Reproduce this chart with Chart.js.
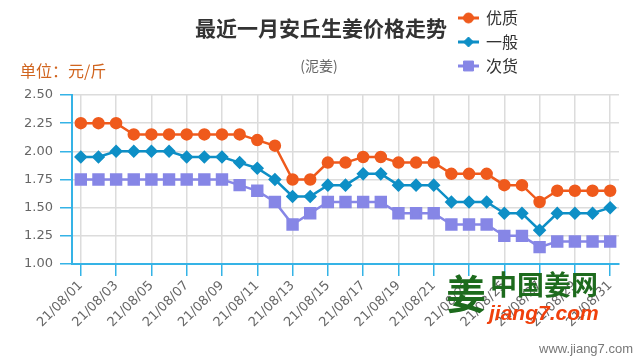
<!DOCTYPE html>
<html>
<head>
<meta charset="utf-8">
<script src="https://cdn.jsdelivr.net/npm/chart.js@4.4.0/dist/chart.umd.min.js"></script>
<style>
html,body{margin:0;padding:0;background:#fff;}
#wrap{position:relative;width:640px;height:360px;}
</style>
</head>
<body>
<div id="wrap"><canvas id="c" width="640" height="360"></canvas></div>
<script>
const categories = ["21/08/01","21/08/02","21/08/03","21/08/04","21/08/05","21/08/06","21/08/07","21/08/08","21/08/09","21/08/10","21/08/11","21/08/12","21/08/13","21/08/14","21/08/15","21/08/16","21/08/17","21/08/18","21/08/19","21/08/20","21/08/21","21/08/22","21/08/23","21/08/24","21/08/25","21/08/26","21/08/27","21/08/28","21/08/29","21/08/30","21/08/31"];
const youzhi = [2.25,2.25,2.25,2.15,2.15,2.15,2.15,2.15,2.15,2.15,2.10,2.05,1.75,1.75,1.90,1.90,1.95,1.95,1.90,1.90,1.90,1.80,1.80,1.80,1.70,1.70,1.55,1.65,1.65,1.65,1.65];
const yiban = [1.95,1.95,2.00,2.00,2.00,2.00,1.95,1.95,1.95,1.90,1.85,1.75,1.60,1.60,1.70,1.70,1.80,1.80,1.70,1.70,1.70,1.55,1.55,1.55,1.45,1.45,1.30,1.45,1.45,1.45,1.50];
const cihuo = [1.75,1.75,1.75,1.75,1.75,1.75,1.75,1.75,1.75,1.70,1.65,1.55,1.35,1.45,1.55,1.55,1.55,1.55,1.45,1.45,1.45,1.35,1.35,1.35,1.25,1.25,1.15,1.20,1.20,1.20,1.20];
const seriesNames = ["优质","一般","次货"];
const yTicks = [1.00,1.25,1.50,1.75,2.00,2.25,2.50];

const AXIS = '#35b3e6';
const GRID = '#dcdcdc';
const CJK = '"Noto Sans CJK SC", "Noto Sans", sans-serif';

const overlay = {
  id: 'overlay',
  afterDraw(chart) {
    const ctx = chart.ctx;
    ctx.save();
    // title
    ctx.fillStyle = '#333';
    ctx.font = 'bold 21px ' + CJK;
    ctx.textAlign = 'center';
    ctx.textBaseline = 'middle';
    ctx.fillText('最近一月安丘生姜价格走势', 321, 28);
    // subtitle
    ctx.fillStyle = '#666';
    ctx.font = '14px ' + CJK;
    ctx.fillText('(泥姜)', 319, 66);
    // unit
    ctx.textAlign = 'left';
    ctx.fillStyle = '#d0641e';
    ctx.font = '16px ' + CJK;
    ctx.fillText('单位：元/斤', 20, 71);
    // legend
    chart.data.datasets.forEach((ds, i) => {
      const y = 18 + i * 24;
      ctx.strokeStyle = ds.borderColor;
      ctx.lineWidth = 3;
      ctx.beginPath();
      ctx.moveTo(458, y);
      ctx.lineTo(479, y);
      ctx.stroke();
      ctx.fillStyle = ds.backgroundColor;
      ctx.strokeStyle = ds.borderColor;
      ctx.lineWidth = 1;
      Chart.helpers.drawPoint(ctx, {pointStyle: ds.pointStyle, radius: ds.pointRadius, borderWidth: 1}, 468.5, y);
      ctx.fillStyle = '#333';
      ctx.font = '16px ' + CJK;
      ctx.textAlign = 'left';
      ctx.textBaseline = 'middle';
      ctx.fillText(ds.label, 486, y);
    });
    // watermark logo
    ctx.textBaseline = 'middle';
    ctx.fillStyle = '#1d6b1d';
    ctx.font = 'bold 40px ' + CJK;
    ctx.fillText('姜', 446, 294);
    ctx.font = 'bold 27px ' + CJK;
    ctx.fillText('中国姜网', 490, 285);
    ctx.fillStyle = '#f0400c';
    ctx.font = 'italic bold 21px "Liberation Sans", Arial, sans-serif';
    ctx.fillText('jiang7.com', 489, 314);
    ctx.fillStyle = '#777';
    ctx.font = '13px "Liberation Sans", Arial, sans-serif';
    ctx.textAlign = 'right';
    ctx.fillText('www.jiang7.com', 633, 349);
    ctx.restore();
  }
};

new Chart(document.getElementById('c'), {
  type: 'line',
  data: {
    labels: categories,
    datasets: [
      {label: seriesNames[0], data: youzhi, borderColor: '#ef5a1c', backgroundColor: '#ef5a1c', pointBackgroundColor: '#ef5a1c', pointBorderColor: '#ef5a1c', pointStyle: 'circle', pointRadius: 5, borderWidth: 2.5, tension: 0},
      {label: seriesNames[1], data: yiban, borderColor: '#0e8fc6', backgroundColor: '#0e8fc6', pointBackgroundColor: '#0e8fc6', pointBorderColor: '#0e8fc6', pointStyle: 'rectRot', pointRadius: 5, borderWidth: 2.5, tension: 0},
      {label: seriesNames[2], data: cihuo, borderColor: '#8686e6', backgroundColor: '#8686e6', pointBackgroundColor: '#8686e6', pointBorderColor: '#8686e6', pointStyle: 'rect', pointRadius: 7, borderWidth: 2.5, tension: 0}
    ]
  },
  options: {
    responsive: false,
    animation: false,
    layout: {padding: {top: 95, right: 21, left: 0, bottom: 0}},
    plugins: {legend: {display: false}, title: {display: false}, tooltip: {enabled: false}},
    scales: {
      x: {
        offset: true,
        afterFit(s) { s.height = 96; },
        border: {color: AXIS, width: 2},
        grid: {
          color: (c) => (c.index % 2 === 0 ? GRID : 'rgba(0,0,0,0)'),
          tickColor: (c) => (c.index % 2 === 0 ? AXIS : 'rgba(0,0,0,0)'),
          lineWidth: 1.5,
          tickLength: 12,
          offset: false
        },
        ticks: {
          autoSkip: false,
          minRotation: 45,
          maxRotation: 45,
          padding: 2,
          color: '#666',
          font: {family: 'DejaVu Sans', size: 13},
          callback(v, i) { return i % 2 === 0 ? categories[i] : ''; }
        }
      },
      y: {
        min: 1, max: 2.5,
        afterFit(s) { s.width = 72; },
        afterBuildTicks(s) { s.ticks = yTicks.map(v => ({value: v})); },
        border: {color: AXIS, width: 2},
        grid: {color: GRID, tickColor: AXIS, lineWidth: 1.5, tickLength: 12},
        ticks: {
          padding: 7,
          color: '#666',
          font: {family: 'DejaVu Sans', size: 13},
          callback(v) { return Number(v).toFixed(2); }
        }
      }
    }
  },
  plugins: [overlay]
});
</script>
</body>
</html>
